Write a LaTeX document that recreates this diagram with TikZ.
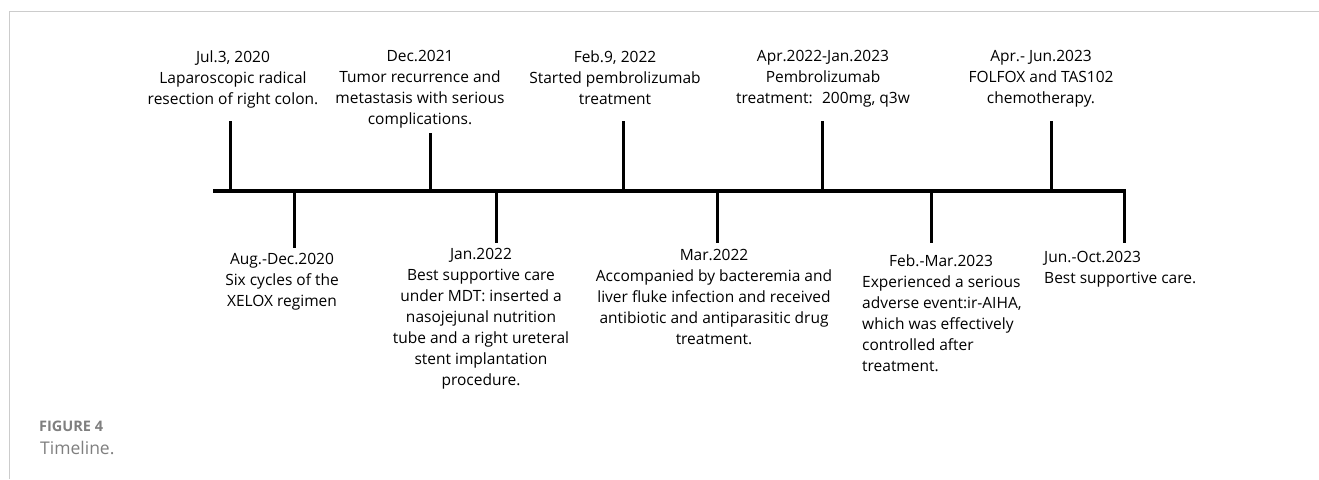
\documentclass[tikz,border=0pt]{standalone}
\usepackage{fontspec}
\setmainfont{Open Sans}
\usepackage{xcolor}
\definecolor{framegray}{HTML}{CCCCCC}
\definecolor{capgray}{HTML}{7F7F7F}
\tikzset{
  event/.style={inner sep=0pt, align=center, font=\fontsize{15.5}{21}\selectfont},
  axisline/.style={line width=4.5pt},
  tickline/.style={line width=3pt},
}
\begin{document}
\begin{tikzpicture}[x=1pt,y=-1pt]
                \useasboundingbox (0,0) rectangle (1319,479);
                % frame of the figure
                \draw[framegray, line width=1pt] (9,479) -- (9,11.5) -- (1319,11.5);
                % events above the axis
                \node[event, anchor=north] (lap) at (233,50.5) {Jul.3, 2020\\Laparoscopic radical\\resection of right colon.};
                \node[event, anchor=north] (recur) at (420,50.5) {Dec.2021\\Tumor recurrence and\\metastasis with serious\\complications.};
                \node[event, anchor=north] (pembro) at (615,50.5) {Feb.9, 2022\\Started pembrolizumab\\treatment};
                \node[event, anchor=north] (dose) at (823,50.5) {Apr.2022-Jan.2023\\Pembrolizumab\\treatment:~ 200mg, q3w};
                \node[event, anchor=north] (folfox) at (1041,50.5) {Apr.- Jun.2023\\FOLFOX and TAS102\\chemotherapy.};
                % events below the axis
                \node[event, anchor=north] (xelox) at (282,253.5) {Aug.-Dec.2020\\Six cycles of the\\XELOX regimen};
                \node[event, anchor=north] (mdt) at (481,248.5) {Jan.2022\\Best supportive care\\under MDT: inserted a\\nasojejunal nutrition\\tube and a right ureteral\\stent implantation\\procedure.};
                \node[event, anchor=north] (fluke) at (714,249.5) {Mar.2022\\Accompanied by bacteremia and\\liver fluke infection and received\\antibiotic and antiparasitic drug\\treatment.};
                \node[event, anchor=north west, align=left] (aiha) at (862,254.5) {\hspace*{27pt}Feb.-Mar.2023\\Experienced a serious\\adverse event:ir-AIHA,\\which was effectively\\controlled after\\treatment.};
                \node[event, anchor=north west, align=left] (bsc) at (1044,251.5) {Jun.-Oct.2023\\Best supportive care.};
                % axis and ticks
                \coordinate (axl) at (213,191);
                \coordinate (axr) at (1126,191);
                \draw[axisline] (axl) -- (axr);
                \foreach \n/\x/\y in {lap/230/121, recur/430/133, pembro/623/121, dose/822/121, folfox/1051/121,
                                      xelox/294/248, mdt/496/243, fluke/717/243, aiha/931/243, bsc/1124.5/243}{
                    \coordinate (\n-a) at (\x,191);
                    \coordinate (\n-e) at (\x,\y);
                    \draw[tickline] (\n-a) -- (\n-e);
                }
                % caption
                \node[anchor=west, inner sep=0pt, text=capgray, font=\bfseries\fontsize{14.5}{17}\selectfont] (fig) at (39,426) {FIGURE 4};
                \node[anchor=west, inner sep=0pt, text=capgray, font=\fontsize{17.5}{20}\selectfont] (title) at (40,448) {Timeline.};
\end{tikzpicture}
\end{document}
